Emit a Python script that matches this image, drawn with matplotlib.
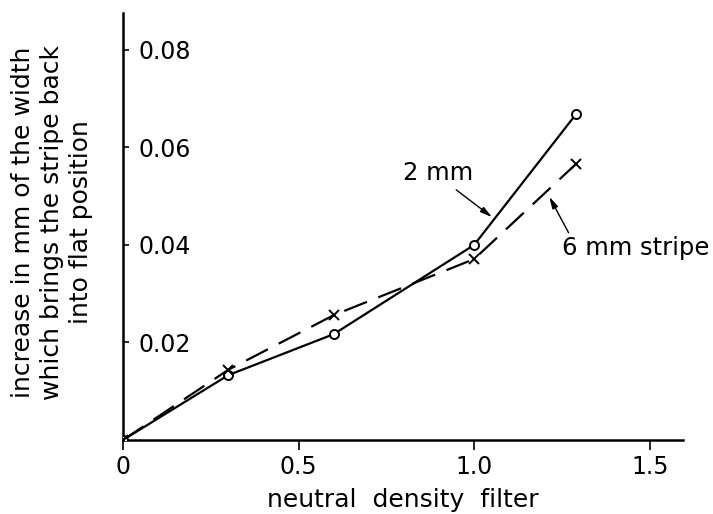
import matplotlib
matplotlib.use("Agg")
import matplotlib.pyplot as plt

plt.rcParams['font.family'] = ['DejaVu Sans']

filter_x = [0.0, 0.3, 0.6, 1.0, 1.29]
stripe_2mm = [0.0, 0.0133, 0.0217, 0.0400, 0.0668]
stripe_6mm = [0.0, 0.0144, 0.0256, 0.0371, 0.0566]
xticks = [0, 0.5, 1.0, 1.5]
xtick_labels = ["0", "0.5", "1.0", "1.5"]
yticks = [0.02, 0.04, 0.06, 0.08]
ytick_labels = ["0.02", "0.04", "0.06", "0.08"]

fig = plt.figure(figsize=(7.13, 5.14), dpi=100)
ax = fig.add_axes([0.1725, 0.144, 0.785, 0.831])

ax.plot(filter_x, stripe_2mm, color='black', lw=1.6, marker='o', ms=6.5,
        mfc='white', mec='black', mew=1.4, zorder=3)
ax.plot(filter_x, stripe_6mm, color='black', lw=1.6, ls=(0, (11, 5.5)),
        marker='x', ms=7, mew=1.4, zorder=3)

ax.set_xlim(0, 1.594)
ax.set_ylim(0, 0.0876)
ax.spines['top'].set_visible(False)
ax.spines['right'].set_visible(False)
for s in ['left', 'bottom']:
    ax.spines[s].set_linewidth(1.8)

ax.set_xticks(xticks)
ax.set_xticklabels(xtick_labels)
ax.set_yticks(yticks)
ax.set_yticklabels(ytick_labels)
ax.tick_params(axis='x', direction='out', length=7, width=1.2, labelsize=17, pad=3.5)
ax.tick_params(axis='y', direction='in', length=4.5, width=1.2, labelsize=17, pad=-11)
for lab in ax.get_yticklabels():
    lab.set_horizontalalignment('left')

ax.set_xlabel("neutral  density  filter", fontsize=18, labelpad=7)
fig.text(0.073, 0.568,
         "increase in mm of the width\nwhich brings the stripe back\ninto flat position",
         rotation=90, fontsize=18, ha='center', va='center', multialignment='center',
         linespacing=1.25)

arrow_style = dict(arrowstyle='-|>,head_length=0.7,head_width=0.18', color='black',
                   lw=1.0, shrinkA=0, shrinkB=0)
ax.text(0.897, 0.0548, "2 mm", fontsize=17.5, ha='center', va='center')
ax.annotate("", xy=(1.051, 0.0457), xytext=(0.949, 0.0513), arrowprops=arrow_style)
ax.text(1.46, 0.0394, "6 mm stripe", fontsize=17.5, ha='center', va='center')
ax.annotate("", xy=(1.214, 0.0499), xytext=(1.269, 0.0425), arrowprops=arrow_style)

fig.savefig("out.png", dpi=100)
